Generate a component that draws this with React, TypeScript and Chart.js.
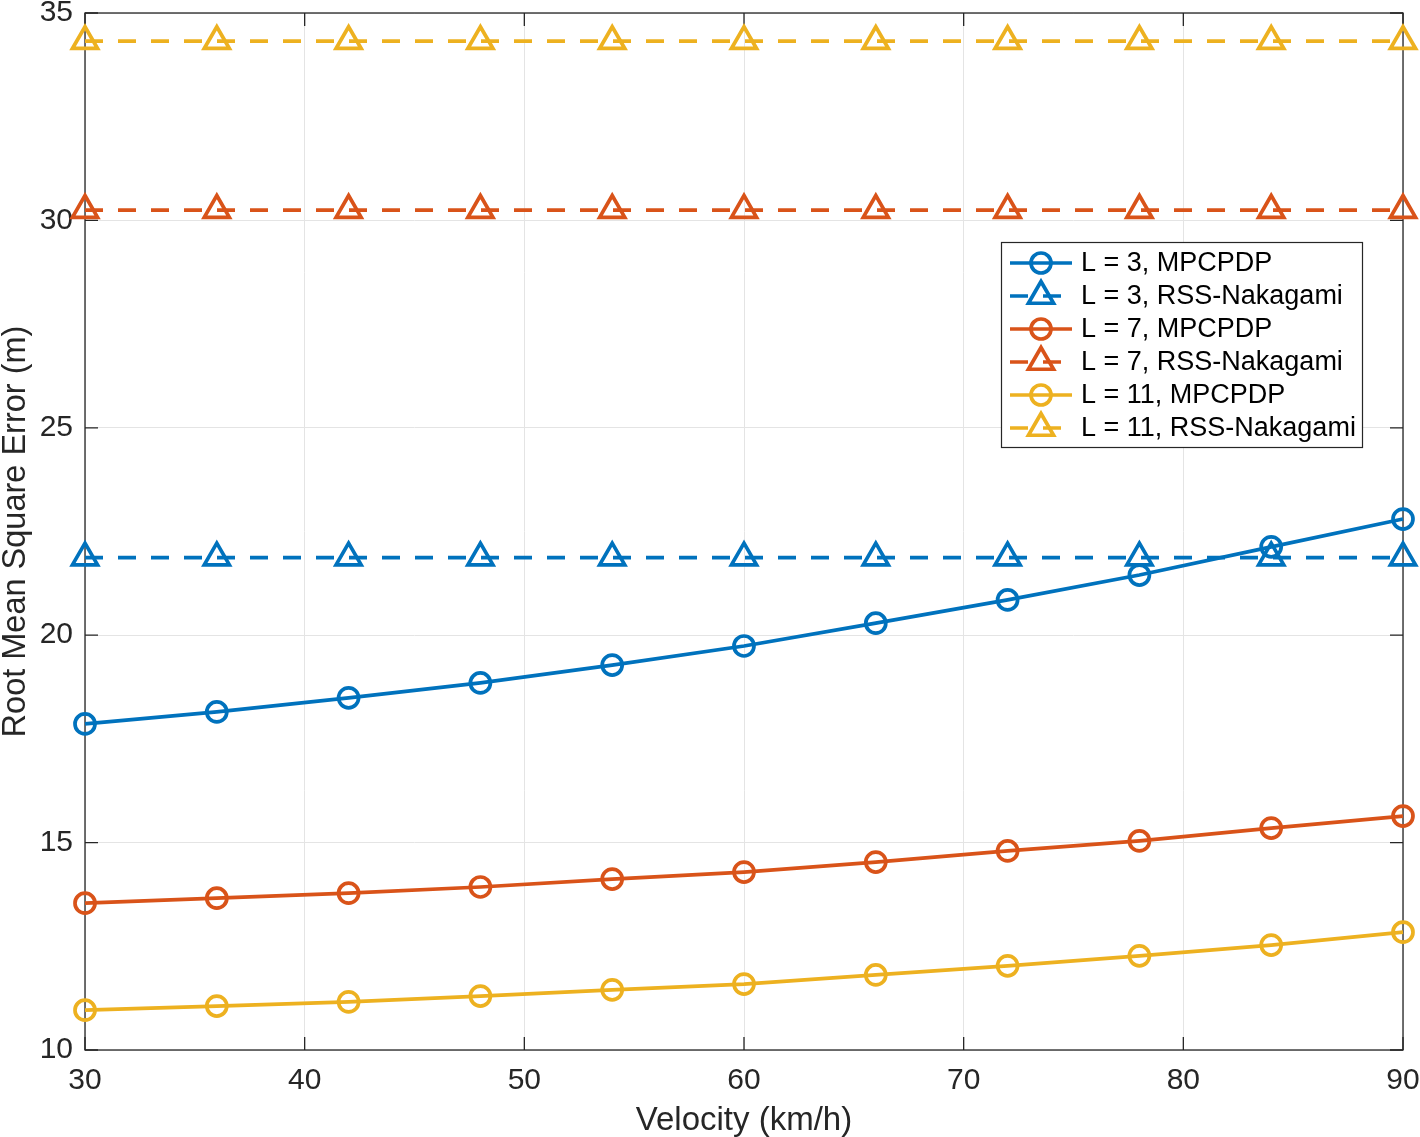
import React, { useEffect, useRef } from "react";
import { Chart, registerables } from "chart.js";

Chart.register(...registerables);

const velocity = [30, 36, 42, 48, 54, 60, 66, 72, 78, 84, 90];
const l3Mpcpdp = [17.86, 18.15, 18.49, 18.85, 19.28, 19.74, 20.29, 20.85, 21.45, 22.13, 22.8];
const l3Rss = [21.87, 21.87, 21.87, 21.87, 21.87, 21.87, 21.87, 21.87, 21.87, 21.87, 21.87];
const l7Mpcpdp = [13.54, 13.66, 13.78, 13.93, 14.12, 14.29, 14.53, 14.8, 15.04, 15.35, 15.64];
const l7Rss = [30.25, 30.25, 30.25, 30.25, 30.25, 30.25, 30.25, 30.25, 30.25, 30.25, 30.25];
const l11Mpcpdp = [10.96, 11.06, 11.16, 11.3, 11.45, 11.59, 11.81, 12.03, 12.27, 12.53, 12.84];
const l11Rss = [34.32, 34.32, 34.32, 34.32, 34.32, 34.32, 34.32, 34.32, 34.32, 34.32, 34.32];

const xTicks = [30, 40, 50, 60, 70, 80, 90];
const yTicks = [10, 15, 20, 25, 30, 35];

const seriesLabels = [
  "L = 3, MPCPDP",
  "L = 3, RSS-Nakagami",
  "L = 7, MPCPDP",
  "L = 7, RSS-Nakagami",
  "L = 11, MPCPDP",
  "L = 11, RSS-Nakagami",
];

const BLUE = "#0072BD";
const ORANGE = "#D95319";
const YELLOW = "#EDB120";
const AXIS = "#262626";
const FONT = "'Liberation Sans', Arial, Helvetica, sans-serif";
const DASH = [18, 15];
const LW = 3.7;
const CIRCLE_R = 10;
const TRI_R = 14.5;

const seriesMeta = [
  { data: l3Mpcpdp, color: BLUE, dashed: false },
  { data: l3Rss, color: BLUE, dashed: true },
  { data: l7Mpcpdp, color: ORANGE, dashed: false },
  { data: l7Rss, color: ORANGE, dashed: true },
  { data: l11Mpcpdp, color: YELLOW, dashed: false },
  { data: l11Rss, color: YELLOW, dashed: true },
];

const boxPlugin = {
  id: "matlabBox",
  beforeDatasetsDraw(chart: any) {
    const { ctx, chartArea } = chart;
    const { left, right, top, bottom } = chartArea;
    const xs = chart.scales.x;
    const ys = chart.scales.y;
    const tl = 13;
    ctx.save();
    ctx.strokeStyle = AXIS;
    ctx.lineWidth = 1.3;
    ctx.beginPath();
    for (const t of xTicks) {
      const px = xs.getPixelForValue(t);
      ctx.moveTo(px, bottom);
      ctx.lineTo(px, bottom - tl);
      ctx.moveTo(px, top);
      ctx.lineTo(px, top + tl);
    }
    for (const t of yTicks) {
      const py = ys.getPixelForValue(t);
      ctx.moveTo(left, py);
      ctx.lineTo(left + tl, py);
      ctx.moveTo(right, py);
      ctx.lineTo(right - tl, py);
    }
    ctx.stroke();
    ctx.strokeRect(left, top, right - left, bottom - top);
    ctx.restore();
  },
};

function drawMarker(ctx: CanvasRenderingContext2D, style: string, x: number, y: number, r: number) {
  ctx.beginPath();
  if (style === "circle") {
    ctx.arc(x, y, r, 0, Math.PI * 2);
  } else {
    let rad = 0;
    ctx.moveTo(x + Math.sin(rad) * r, y - Math.cos(rad) * r);
    rad += (2 * Math.PI) / 3;
    ctx.lineTo(x + Math.sin(rad) * r, y - Math.cos(rad) * r);
    rad += (2 * Math.PI) / 3;
    ctx.lineTo(x + Math.sin(rad) * r, y - Math.cos(rad) * r);
    ctx.closePath();
  }
  ctx.stroke();
}

const legendPlugin = {
  id: "matlabLegend",
  afterDatasetsDraw(chart: any) {
    const ctx: CanvasRenderingContext2D = chart.ctx;
    const bx = 1001, by = 242, bw = 361, bh = 205;
    ctx.save();
    ctx.fillStyle = "#ffffff";
    ctx.fillRect(bx, by, bw, bh);
    ctx.strokeStyle = AXIS;
    ctx.lineWidth = 1.2;
    ctx.strokeRect(bx + 0.5, by + 0.5, bw, bh);
    ctx.font = `27px ${FONT}`;
    ctx.textBaseline = "middle";
    ctx.textAlign = "left";
    seriesMeta.forEach((s, i) => {
      const y = 263 + i * 33;
      ctx.strokeStyle = s.color;
      ctx.lineWidth = LW;
      ctx.setLineDash(s.dashed ? DASH : []);
      ctx.beginPath();
      ctx.moveTo(1010, y);
      ctx.lineTo(1072, y);
      ctx.stroke();
      ctx.setLineDash([]);
      drawMarker(ctx, s.dashed ? "triangle" : "circle", 1041, y, s.dashed ? TRI_R : CIRCLE_R);
      ctx.fillStyle = "#000000";
      ctx.fillText(seriesLabels[i], 1081, y + 1);
    });
    ctx.restore();
  },
};

export default function App() {
  const canvasRef = useRef<HTMLCanvasElement | null>(null);

  useEffect(() => {
    if (!canvasRef.current) return;
    const datasets = seriesMeta.map((s, i) => ({
      label: seriesLabels[i],
      data: velocity.map((v, j) => ({ x: v, y: s.data[j] })),
      borderColor: s.color,
      backgroundColor: "transparent",
      borderWidth: LW,
      borderDash: s.dashed ? DASH : [],
      pointStyle: s.dashed ? "triangle" : "circle",
      pointRadius: s.dashed ? TRI_R : CIRCLE_R,
      pointBorderWidth: LW,
      pointBorderColor: s.color,
      pointBackgroundColor: "transparent",
      tension: 0,
      clip: false as any,
    }));
    const chart = new Chart(canvasRef.current, {
      type: "line",
      data: { datasets },
      options: {
        animation: false,
        responsive: false,
        devicePixelRatio: 1,
        layout: { autoPadding: false, padding: { top: 13, right: 17, left: 0, bottom: 0 } },
        plugins: {
          legend: { display: false },
          tooltip: { enabled: false },
        },
        scales: {
          x: {
            type: "linear",
            min: 30,
            max: 90,
            afterFit: (scale: any) => {
              scale.height = 87;
              scale.paddingLeft = 0;
              scale.paddingRight = 0;
            },
            afterBuildTicks: (scale: any) => {
              scale.ticks = xTicks.map((v) => ({ value: v }));
            },
            ticks: {
              color: AXIS,
              font: { family: FONT, size: 30 },
              padding: 13,
              maxRotation: 0,
              autoSkip: false,
            },
            grid: { color: "#e4e4e4", lineWidth: 1, drawTicks: false },
            border: { display: false },
            title: {
              display: true,
              text: "Velocity (km/h)",
              color: AXIS,
              font: { family: FONT, size: 33, lineHeight: 1 },
              padding: { top: 0, bottom: 0 },
            },
          },
          y: {
            type: "linear",
            min: 10,
            max: 35,
            afterFit: (scale: any) => {
              scale.width = 85;
              scale.paddingTop = 0;
              scale.paddingBottom = 0;
            },
            afterBuildTicks: (scale: any) => {
              scale.ticks = yTicks.map((v) => ({ value: v }));
            },
            ticks: {
              color: AXIS,
              font: { family: FONT, size: 30 },
              padding: 12,
              autoSkip: false,
            },
            grid: { color: "#e4e4e4", lineWidth: 1, drawTicks: false },
            border: { display: false },
            title: {
              display: true,
              text: "Root Mean Square Error (m)",
              color: AXIS,
              font: { family: FONT, size: 32.5, lineHeight: 1 },
              padding: { top: 0, bottom: 0 },
            },
          },
        },
      },
      plugins: [boxPlugin, legendPlugin],
    });
    return () => chart.destroy();
  }, []);

  return (
    <div style={{ position: "absolute", left: 0, top: 0, width: 1420, height: 1137, background: "#ffffff" }}>
      <canvas ref={canvasRef} width={1420} height={1137} style={{ display: "block" }} />
    </div>
  );
}
